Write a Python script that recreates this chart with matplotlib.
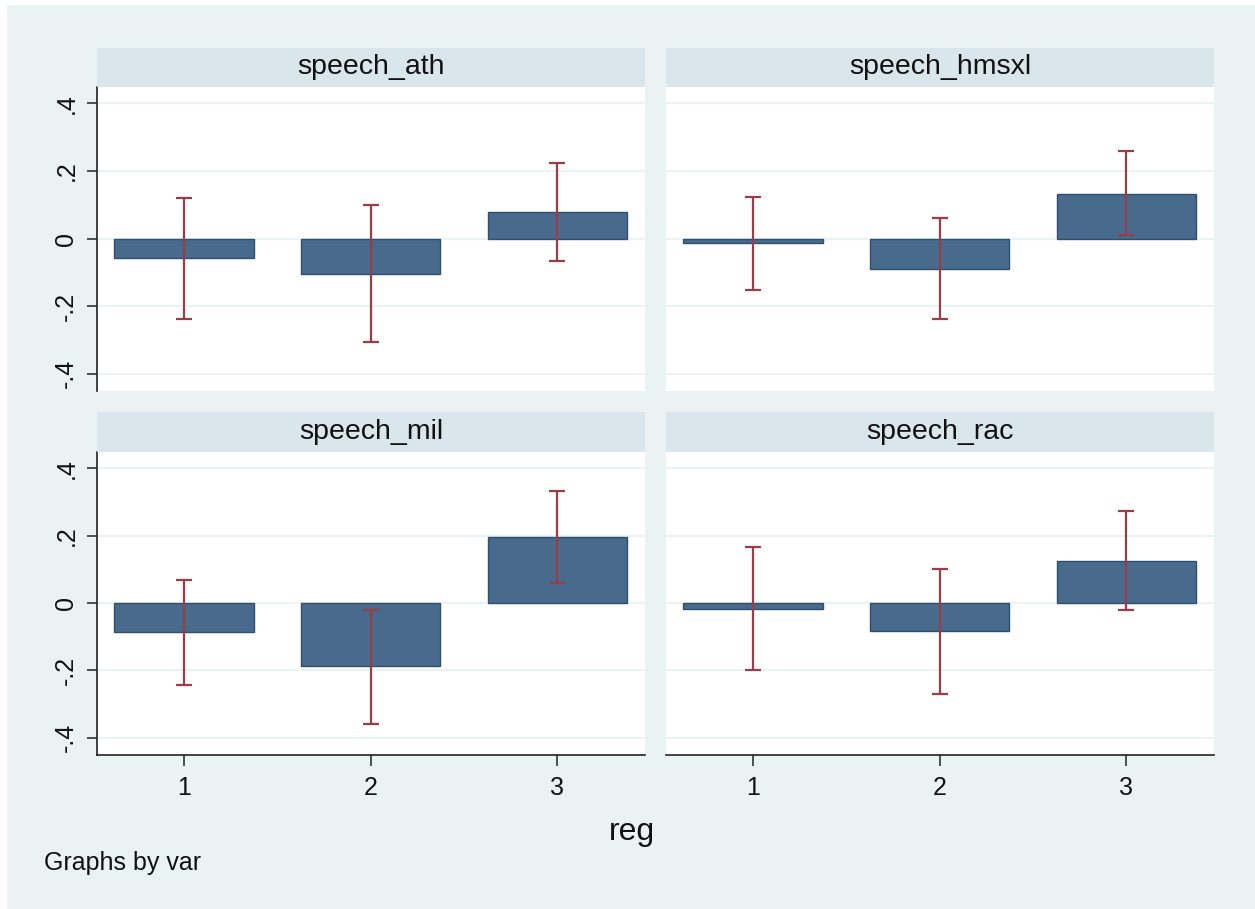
import matplotlib
matplotlib.use("Agg")
import matplotlib.pyplot as plt
from matplotlib.patches import Rectangle
import numpy as np

plt.rcParams['font.family'] = ['Liberation Sans', 'DejaVu Sans']

# ---- data ----
panels = ["speech_ath", "speech_hmsxl", "speech_mil", "speech_rac"]
reg = [1, 2, 3]
coef_ath = [-0.059, -0.104, 0.078]
lo_ath = [-0.238, -0.306, -0.066]
hi_ath = [0.121, 0.099, 0.224]

coef_hmsxl = [-0.014, -0.089, 0.133]
lo_hmsxl = [-0.152, -0.239, 0.010]
hi_hmsxl = [0.122, 0.060, 0.260]

coef_mil = [-0.087, -0.188, 0.196]
lo_mil = [-0.243, -0.359, 0.060]
hi_mil = [0.068, -0.020, 0.333]

coef_rac = [-0.017, -0.083, 0.124]
lo_rac = [-0.200, -0.270, -0.021]
hi_rac = [0.165, 0.102, 0.272]

yticks = [-0.4, -0.2, 0, 0.2, 0.4]
ytick_labels = ["-.4", "-.2", "0", ".2", ".4"]

series = [
    (coef_ath, lo_ath, hi_ath),
    (coef_hmsxl, lo_hmsxl, hi_hmsxl),
    (coef_mil, lo_mil, hi_mil),
    (coef_rac, lo_rac, hi_rac),
]

W, H = 1255, 909
BG = "#EAF2F3"
STRIP = "#D9E6EB"
BAR = "#486A8C"
BAR_EDGE = "#2E4F70"
ERR = "#993D47"
TXT = "#111111"

fig = plt.figure(figsize=(W / 100, H / 100), dpi=100)
fig.patch.set_facecolor("white")
fig.add_artist(Rectangle((7 / W, 0), 1 - 7 / W, 1 - 5 / H, transform=fig.transFigure,
                         facecolor=BG, edgecolor="none", zorder=-10))

# layout in pixels: (x0, x1, plot_top, plot_bottom, strip_top)
lay = [
    (97, 645, 86.7, 391, 47.7),
    (666, 1214, 86.7, 391, 47.7),
    (97, 645, 451.7, 755, 412.3),
    (666, 1214, 451.7, 755, 412.3),
]

for i, (name, (c, lo, hi), (x0, x1, pt, pb, st)) in enumerate(zip(panels, series, lay)):
    ax = fig.add_axes([x0 / W, 1 - pb / H, (x1 - x0) / W, (pb - pt) / H])
    ax.set_facecolor("white")
    ax.set_xlim(0.534, 3.47)
    ax.set_ylim(-0.451, 0.449)
    for y in yticks:
        ax.axhline(y, color=BG, lw=1.6, zorder=0)
    c = np.array(c); lo = np.array(lo); hi = np.array(hi)
    ax.bar(reg, c, width=0.745, color=BAR, edgecolor=BAR_EDGE, linewidth=1.0, zorder=2)
    ax.errorbar(reg, c, yerr=[c - lo, hi - c], fmt="none", ecolor=ERR,
                elinewidth=1.6, capsize=5.5, capthick=1.6, zorder=3)
    for s in ["top", "right"]:
        ax.spines[s].set_visible(False)
    left = (i % 2 == 0)
    bottom = (i >= 2)
    ax.spines["left"].set_visible(left)
    ax.spines["bottom"].set_visible(bottom)
    ax.spines["left"].set_color("#222222")
    ax.spines["bottom"].set_color("#222222")
    ax.spines["left"].set_linewidth(1.2)
    ax.spines["bottom"].set_linewidth(1.2)
    ax.set_yticks(yticks)
    if left:
        ax.set_yticklabels(ytick_labels, rotation=90, va="center", fontsize=18, color=TXT)
        ax.tick_params(axis="y", length=7.5, width=1.2, color="#333333", pad=6)
    else:
        ax.tick_params(axis="y", left=False, labelleft=False)
    ax.set_xticks(reg)
    if bottom:
        ax.set_xticklabels([str(r) for r in reg], fontsize=18, color=TXT)
        ax.tick_params(axis="x", length=8, width=1.2, color="#333333", pad=7)
    else:
        ax.tick_params(axis="x", bottom=False, labelbottom=False)

    sax = fig.add_axes([x0 / W, 1 - pt / H, (x1 - x0) / W, (pt - st) / H])
    sax.set_facecolor(STRIP)
    sax.set_xticks([]); sax.set_yticks([])
    for s in sax.spines.values():
        s.set_visible(False)
    sax.text(0.5, 0.5, name, ha="center", va="center", fontsize=20.5, color=TXT,
             transform=sax.transAxes)

fig.text(632 / W, 1 - 832 / H, "reg", ha="center", va="center", fontsize=23, color=TXT)
fig.text(44 / W, 1 - 863 / H, "Graphs by var", ha="left", va="center", fontsize=18, color=TXT)

fig.savefig("out.png", dpi=100, facecolor=fig.get_facecolor())
